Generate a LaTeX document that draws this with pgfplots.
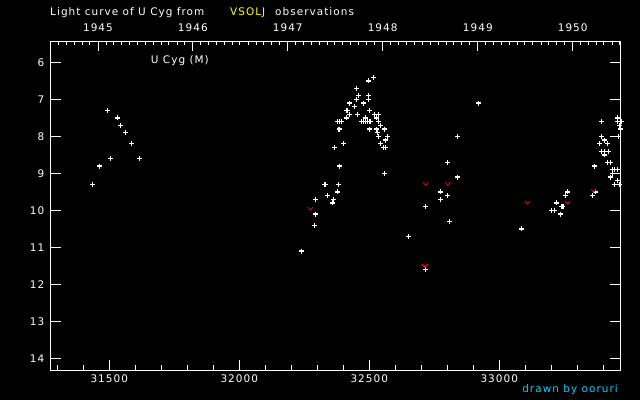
\documentclass[border=0pt]{standalone}
\usepackage{fontspec}
\setmainfont{DejaVu Sans}[LetterSpace=10]
\usepackage{pgfplots}
\pgfplotsset{compat=1.18}
\definecolor{vyellow}{RGB}{255,255,0}
\definecolor{vcyan}{RGB}{0,210,255}
\pgfdeclareplotmark{smallv}{%
 \pgfpathmoveto{\pgfqpoint{-2.5bp}{1.5bp}}%
 \pgfpathlineto{\pgfqpoint{0bp}{-1.5bp}}%
 \pgfpathlineto{\pgfqpoint{2.5bp}{1.5bp}}%
 \pgfusepathqstroke}
\pgfdeclareplotmark{bigv}{%
 \pgfpathmoveto{\pgfqpoint{-3.2bp}{1.6bp}}%
 \pgfpathlineto{\pgfqpoint{0bp}{-1.8bp}}%
 \pgfpathlineto{\pgfqpoint{3.2bp}{1.6bp}}%
 \pgfpathlineto{\pgfqpoint{0bp}{0.2bp}}%
 \pgfpathclose\pgfusepathqfillstroke}
\newcommand{\lab}{\fontsize{10.5}{12}\selectfont}
\begin{document}
\begin{tikzpicture}
\fill[black] (0bp,0bp) rectangle (640bp,400bp);
\useasboundingbox (0bp,0bp) rectangle (640bp,400bp);
% top (year) axis
\begin{axis}[
 at={(50bp,29.3bp)}, anchor=south west,
 scale only axis, width=570.4bp, height=329.7bp,
 xmin=31272, xmax=33466, ymin=0, ymax=1,
 scaled x ticks=false,
 axis line style={white, line width=0.9bp},
 every tick/.style={white, line width=0.9bp},
 tick align=inside,
 major tick length=9.7bp, minor tick length=4bp,
 ytick=\empty,
 xtick pos=right, xticklabel pos=right,
 xtick={31456.5,31821.5,32186.5,32551.5,32917.5,33282.5},
 xticklabels={1945,1946,1947,1948,1949,1950},
 minor xtick={31303.5,31334.5,31364.5,31395.5,31425.5,
  31487.5,31515.5,31546.5,31576.5,31607.5,31637.5,31668.5,31699.5,31729.5,31760.5,31790.5,
  31852.5,31880.5,31911.5,31941.5,31972.5,32002.5,32033.5,32064.5,32094.5,32125.5,32155.5,
  32217.5,32245.5,32276.5,32306.5,32337.5,32367.5,32398.5,32429.5,32459.5,32490.5,32520.5,
  32582.5,32611.5,32642.5,32672.5,32703.5,32733.5,32764.5,32795.5,32825.5,32856.5,32886.5,
  32948.5,32976.5,33007.5,33037.5,33068.5,33098.5,33129.5,33160.5,33190.5,33221.5,33251.5,
  33313.5,33341.5,33372.5,33402.5,33433.5,33463.5},
 xticklabel style={white, font=\lab, anchor=south, inner sep=0pt, yshift=8.7bp},
]
\end{axis}
% main axis
\begin{axis}[
 at={(50bp,29.3bp)}, anchor=south west,
 scale only axis, width=570.4bp, height=329.7bp,
 xmin=31272, xmax=33466, ymin=5.42, ymax=14.335, y dir=reverse,
 scaled x ticks=false, scaled y ticks=false,
 clip=false,
 axis line style={white, line width=0.9bp},
 every tick/.style={white, line width=0.9bp},
 tick align=inside,
 major tick length=10.7bp, minor tick length=5.5bp,
 xtick pos=left,
 xtick={31500,32000,32500,33000},
 xticklabels={31500,32000,32500,33000},
 minor xtick={31300,31400,31600,31700,31800,31900,32100,32200,32300,32400,32600,32700,32800,32900,33100,33200,33300,33400},
 ytick={6,7,8,9,10,11,12,13,14},
 yticklabels={6,7,8,9,10,11,12,13,14},
 ytick pos=both,
 xticklabel style={white, font=\lab, anchor=north, inner sep=0pt, yshift=-3.6bp},
 yticklabel style={white, font=\lab, anchor=east, inner sep=0pt, xshift=-5.5bp},
]
\addplot[only marks, mark=+, white, mark size=2.5bp, line width=1.3bp] coordinates {
(31436,9.3) (31463,8.8) (31493,7.3) (31505,8.6) (31532,7.5) (31543,7.7) (31563,7.9) (31586,8.2) (31617,8.6)
(32240,11.1) (32289,10.4) (32293,10.1) (32293,9.7) (32329,9.3) (32333,9.3) (32340,9.6) (32359,9.8) (32363,9.7)
(32367,8.3) (32378,9.5) (32382,9.3) (32386,8.8) (32384,7.8) (32386,7.8) (32378,7.6) (32386,7.6) (32393,7.6)
(32401,8.2) (32413,7.5) (32413,7.3) (32415,7.3) (32424,7.1) (32424,7.4) (32443,7.2) (32451,6.7) (32451,7.0)
(32455,7.4) (32459,6.9) (32470,7.6) (32478,7.6) (32486,7.6) (32494,7.6) (32503,7.6) (32478,7.1) (32486,7.5)
(32497,6.5) (32497,6.9) (32497,7.0) (32501,7.3) (32501,7.8) (32517,6.4) (32520,7.4) (32528,7.5) (32528,7.8)
(32532,7.9) (32536,7.4) (32536,7.6) (32536,8.0) (32543,7.7) (32543,8.2) (32555,8.3) (32563,8.3) (32559,7.8)
(32563,8.1) (32570,8.0) (32559,9.0)
(32651,10.7) (32717,9.9) (32717,11.6) (32774,9.5) (32774,9.7) (32802,8.7) (32802,9.6) (32809,10.3)
(32840,8.0) (32840,9.1) (32921,7.1)
(33086,10.5) (33201,10.0) (33213,10.0) (33220,9.8) (33236,10.1) (33241,9.9) (33245,9.9) (33255,9.6) (33263,9.5)
(33359,9.6) (33367,8.8) (33371,9.5) (33386,8.2) (33393,7.6) (33393,8.0) (33393,8.4) (33405,8.1) (33405,8.4)
(33405,8.5) (33417,8.2) (33417,8.7) (33420,8.4) (33428,8.7) (33428,9.1) (33436,8.9) (33436,9.0) (33444,8.9)
(33444,9.3) (33455,8.9) (33455,9.2) (33455,7.5) (33455,7.6) (33459,8.0) (33463,7.7) (33463,9.3) (33467,7.8)
(33469,7.6)
};
\addplot[only marks, mark=smallv, red, line width=0.8bp] coordinates {
(32274,9.95) (32717,9.28) (32802,9.28) (33109,9.79) (33263,9.79) (33363,9.47)
};
\addplot[only marks, mark=bigv, red, line width=0.6bp] coordinates {
(32714,11.5)
};
\end{axis}
\node[anchor=base west, inner sep=0pt, white, font=\lab] at (50bp,384.5bp) {Light curve of U Cyg from};
\node[anchor=base west, inner sep=0pt, vyellow, font=\lab] at (230bp,384.5bp) {VSOLJ};
\node[anchor=base west, inner sep=0pt, white, font=\lab] at (275bp,384.5bp) {observations};
\node[anchor=base west, inner sep=0pt, white, font=\lab] at (150.7bp,336bp) {U Cyg (M)};
\node[anchor=base east, inner sep=0pt, vcyan, font=\lab] at (618bp,8bp) {drawn by ooruri};
\end{tikzpicture}
\end{document}
